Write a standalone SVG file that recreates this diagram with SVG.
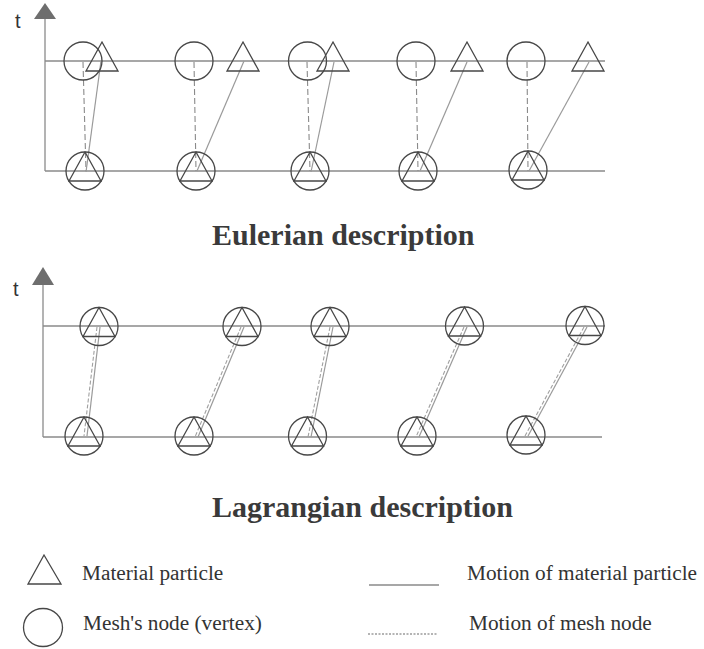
<svg xmlns="http://www.w3.org/2000/svg" xmlns:xlink="http://www.w3.org/1999/xlink" width="704" height="649" viewBox="0 0 704 649">
<style>
.ax{stroke:#8a8a8a;stroke-width:1.3;fill:none}
.arr{fill:#6e6e6e;stroke:none}
.shape{fill:none;stroke:#474747;stroke-width:1.3}
.mat{stroke:#9a9a9a;stroke-width:1.2;fill:none}
.mesh{stroke:#8a8a8a;stroke-width:1.1;fill:none;stroke-dasharray:6,3}
.mesh2{stroke:#a0a0a0;stroke-width:1.1;fill:none;stroke-dasharray:4,2}
.tl{font-family:"Liberation Sans",Arial,sans-serif;font-size:20px;fill:#333}
.title{font-family:"Liberation Serif","Times New Roman",serif;font-size:30px;font-weight:bold;fill:#3a3a3a}
.leg{font-family:"Liberation Serif","Times New Roman",serif;font-size:21.3px;fill:#333}
</style>
<defs>
<path id="tri" d="M0,-19 L16,10 L-16,10 Z"/>
<circle id="cir" cx="0" cy="0" r="19"/>
</defs>
<rect width="704" height="649" fill="#fff"/>

<!-- Eulerian axes -->
<g id="euler-axes">
<line class="ax" x1="45" y1="18" x2="45" y2="171"/>
<polygon class="arr" points="45,3 56,19 34,19"/>
<line class="ax" x1="45" y1="61" x2="605" y2="61"/>
<line class="ax" x1="45" y1="171" x2="605" y2="171"/>
<text class="tl" x="15" y="28">t</text>
</g>

<g id="euler-connectors">
<line class="mesh" x1="83" y1="62" x2="86" y2="171"/>
<line class="mesh" x1="194" y1="62" x2="196" y2="171"/>
<line class="mesh" x1="307" y1="62" x2="310" y2="171"/>
<line class="mesh" x1="416" y1="62" x2="418" y2="171"/>
<line class="mesh" x1="527" y1="62" x2="528" y2="171"/>
<line class="mat" x1="101" y1="61" x2="86" y2="172"/>
<line class="mat" x1="244" y1="61" x2="197" y2="171"/>
<line class="mat" x1="334" y1="62" x2="311" y2="172"/>
<line class="mat" x1="467" y1="62" x2="420" y2="171"/>
<line class="mat" x1="589" y1="62" x2="529" y2="171"/>
</g>

<g id="euler-top1"><use href="#cir" class="shape" x="83" y="61"/><use href="#tri" class="shape" x="102" y="61"/></g>
<g id="euler-top2"><use href="#cir" class="shape" x="194" y="61"/><use href="#tri" class="shape" x="243" y="61"/></g>
<g id="euler-top3"><use href="#cir" class="shape" x="307.5" y="61"/><use href="#tri" class="shape" x="333" y="61"/></g>
<g id="euler-top4"><use href="#cir" class="shape" x="416" y="61"/><use href="#tri" class="shape" x="467" y="61"/></g>
<g id="euler-top5"><use href="#cir" class="shape" x="526" y="61"/><use href="#tri" class="shape" x="588" y="61"/></g>

<g id="euler-bot1"><use href="#cir" class="shape" x="85" y="171"/><use href="#tri" class="shape" x="85" y="171"/></g>
<g id="euler-bot2"><use href="#cir" class="shape" x="196" y="171"/><use href="#tri" class="shape" x="196" y="171"/></g>
<g id="euler-bot3"><use href="#cir" class="shape" x="310" y="171"/><use href="#tri" class="shape" x="310" y="171"/></g>
<g id="euler-bot4"><use href="#cir" class="shape" x="418" y="171"/><use href="#tri" class="shape" x="418" y="171"/></g>
<g id="euler-bot5"><use href="#cir" class="shape" x="528" y="170"/><use href="#tri" class="shape" x="528" y="170"/></g>

<text class="title" x="212" y="245">Eulerian description</text>

<!-- Lagrangian axes -->
<g id="lag-axes">
<line class="ax" x1="43" y1="284" x2="43" y2="437"/>
<polygon class="arr" points="43,267 54,285 32,285"/>
<line class="ax" x1="43" y1="326" x2="605" y2="326"/>
<line class="ax" x1="43" y1="437" x2="602" y2="437"/>
<text class="tl" x="13" y="296">t</text>
</g>

<g id="lag-connectors">
<line class="mat" x1="100" y1="327" x2="87" y2="436"/>
<line class="mesh2" x1="97" y1="327" x2="84" y2="436"/>
<line class="mat" x1="244" y1="327" x2="198" y2="437"/>
<line class="mesh2" x1="241" y1="327" x2="195" y2="437"/>
<line class="mat" x1="333" y1="327" x2="311" y2="437"/>
<line class="mesh2" x1="330" y1="327" x2="308" y2="437"/>
<line class="mat" x1="467" y1="327" x2="419" y2="437"/>
<line class="mesh2" x1="464" y1="327" x2="416" y2="437"/>
<line class="mat" x1="587" y1="327" x2="528" y2="436"/>
<line class="mesh2" x1="584" y1="327" x2="525" y2="436"/>
</g>

<g id="lag-top1"><use href="#cir" class="shape" x="99" y="326.5"/><use href="#tri" class="shape" x="99" y="326.5"/></g>
<g id="lag-top2"><use href="#cir" class="shape" x="242" y="326.5"/><use href="#tri" class="shape" x="242" y="326.5"/></g>
<g id="lag-top3"><use href="#cir" class="shape" x="330" y="326.5"/><use href="#tri" class="shape" x="330" y="326.5"/></g>
<g id="lag-top4"><use href="#cir" class="shape" x="464.5" y="326"/><use href="#tri" class="shape" x="464.5" y="326"/></g>
<g id="lag-top5"><use href="#cir" class="shape" x="585" y="325.5"/><use href="#tri" class="shape" x="585" y="325.5"/></g>

<g id="lag-bot1"><use href="#cir" class="shape" x="84" y="436"/><use href="#tri" class="shape" x="84" y="436"/></g>
<g id="lag-bot2"><use href="#cir" class="shape" x="194" y="436"/><use href="#tri" class="shape" x="194" y="436"/></g>
<g id="lag-bot3"><use href="#cir" class="shape" x="307.5" y="436"/><use href="#tri" class="shape" x="307.5" y="436"/></g>
<g id="lag-bot4"><use href="#cir" class="shape" x="417" y="436"/><use href="#tri" class="shape" x="417" y="436"/></g>
<g id="lag-bot5"><use href="#cir" class="shape" x="526" y="435"/><use href="#tri" class="shape" x="526" y="435"/></g>

<text class="title" x="212" y="517">Lagrangian description</text>

<!-- Legend -->
<g id="legend-particle">
<polygon class="shape" points="44,555 61,584 28,584"/>
<text class="leg" x="82" y="580">Material particle</text>
</g>
<g id="legend-node">
<ellipse class="shape" cx="43" cy="627.5" rx="19.5" ry="19"/>
<text class="leg" x="83" y="630">Mesh's node (vertex)</text>
</g>
<g id="legend-matmotion">
<line x1="369" y1="585" x2="439" y2="585" stroke="#8a8a8a" stroke-width="1.3"/>
<text class="leg" x="467" y="580">Motion of material particle</text>
</g>
<g id="legend-meshmotion">
<line x1="368" y1="634" x2="438" y2="634" stroke="#6a6a6a" stroke-width="1.1" stroke-dasharray="2,1.5"/>
<text class="leg" x="469" y="630">Motion of mesh node</text>
</g>
</svg>
